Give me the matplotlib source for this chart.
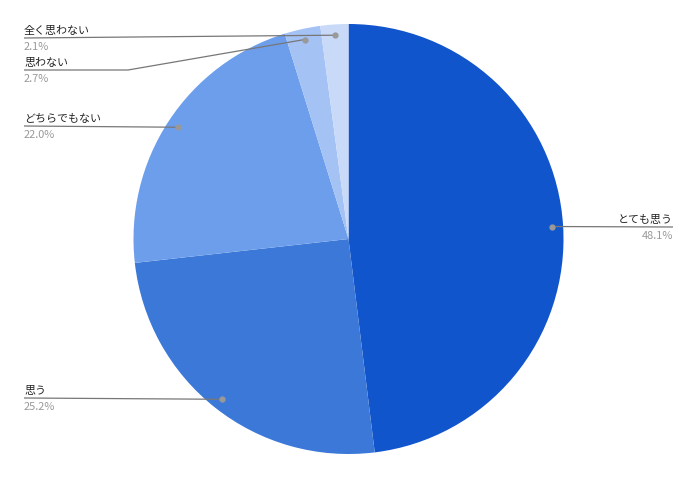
import numpy as np
import matplotlib
matplotlib.use("Agg")
import matplotlib.pyplot as plt

plt.rcParams['font.family'] = ['Noto Sans CJK JP', 'DejaVu Sans']

categories = ["とても思う", "思う", "どちらでもない", "思わない", "全く思わない"]
values = [48.1, 25.2, 22.0, 2.7, 2.1]
pct_labels = ["48.1%", "25.2%", "22.0%", "2.7%", "2.1%"]
colors = ["#1155cc", "#3c78d8", "#6d9eeb", "#a4c2f4", "#c9daf8"]

W, H = 697, 478
fig = plt.figure(figsize=(W / 100, H / 100), dpi=100)
ax = fig.add_axes([0, 0, 1, 1])

cx, cy, R = 348.5, H - 239, 215
wedges, _ = ax.pie(values, colors=colors, startangle=90, counterclock=False,
                   center=(cx, cy), radius=R, frame=True,
                   wedgeprops=dict(edgecolor="none", linewidth=0))
ax.set_xlim(0, W)
ax.set_ylim(0, H)
ax.set_aspect("equal")
ax.axis("off")

# label layout: (side, label line y in px from top, elbow x or None)
layout = {
    0: ("right", 227, None),
    1: ("left", 398, None),
    2: ("left", 126, None),
    3: ("left", 70, 128),
    4: ("left", 38, None),
}
left_x, right_x = 24, 673
line_col = "#777777"
for i, w in enumerate(wedges):
    ang = np.deg2rad((w.theta1 + w.theta2) / 2)
    dx, dy = cx + 0.95 * R * np.cos(ang), cy + 0.95 * R * np.sin(ang)
    side, ly, elbow = layout[i]
    ly = H - ly
    if side == "right":
        xs, ys = [dx, right_x], [dy, ly]
        tx, ha = right_x, "right"
    else:
        if elbow is not None:
            xs, ys = [dx, elbow, left_x], [dy, ly, ly]
        else:
            xs, ys = [dx, left_x], [dy, ly]
        tx, ha = left_x, "left"
    ax.plot(xs, ys, color=line_col, lw=0.9, solid_capstyle="butt")
    ax.plot([dx], [dy], "o", color="#999999", ms=3.5)
    ax.text(tx, ly + 2, categories[i], ha=ha, va="bottom", fontsize=7.9, color="#222222")
    ax.text(tx, ly - 4, pct_labels[i], ha=ha, va="top", fontsize=7.9, color="#999999")

fig.savefig("out.png", dpi=100, facecolor="white")
